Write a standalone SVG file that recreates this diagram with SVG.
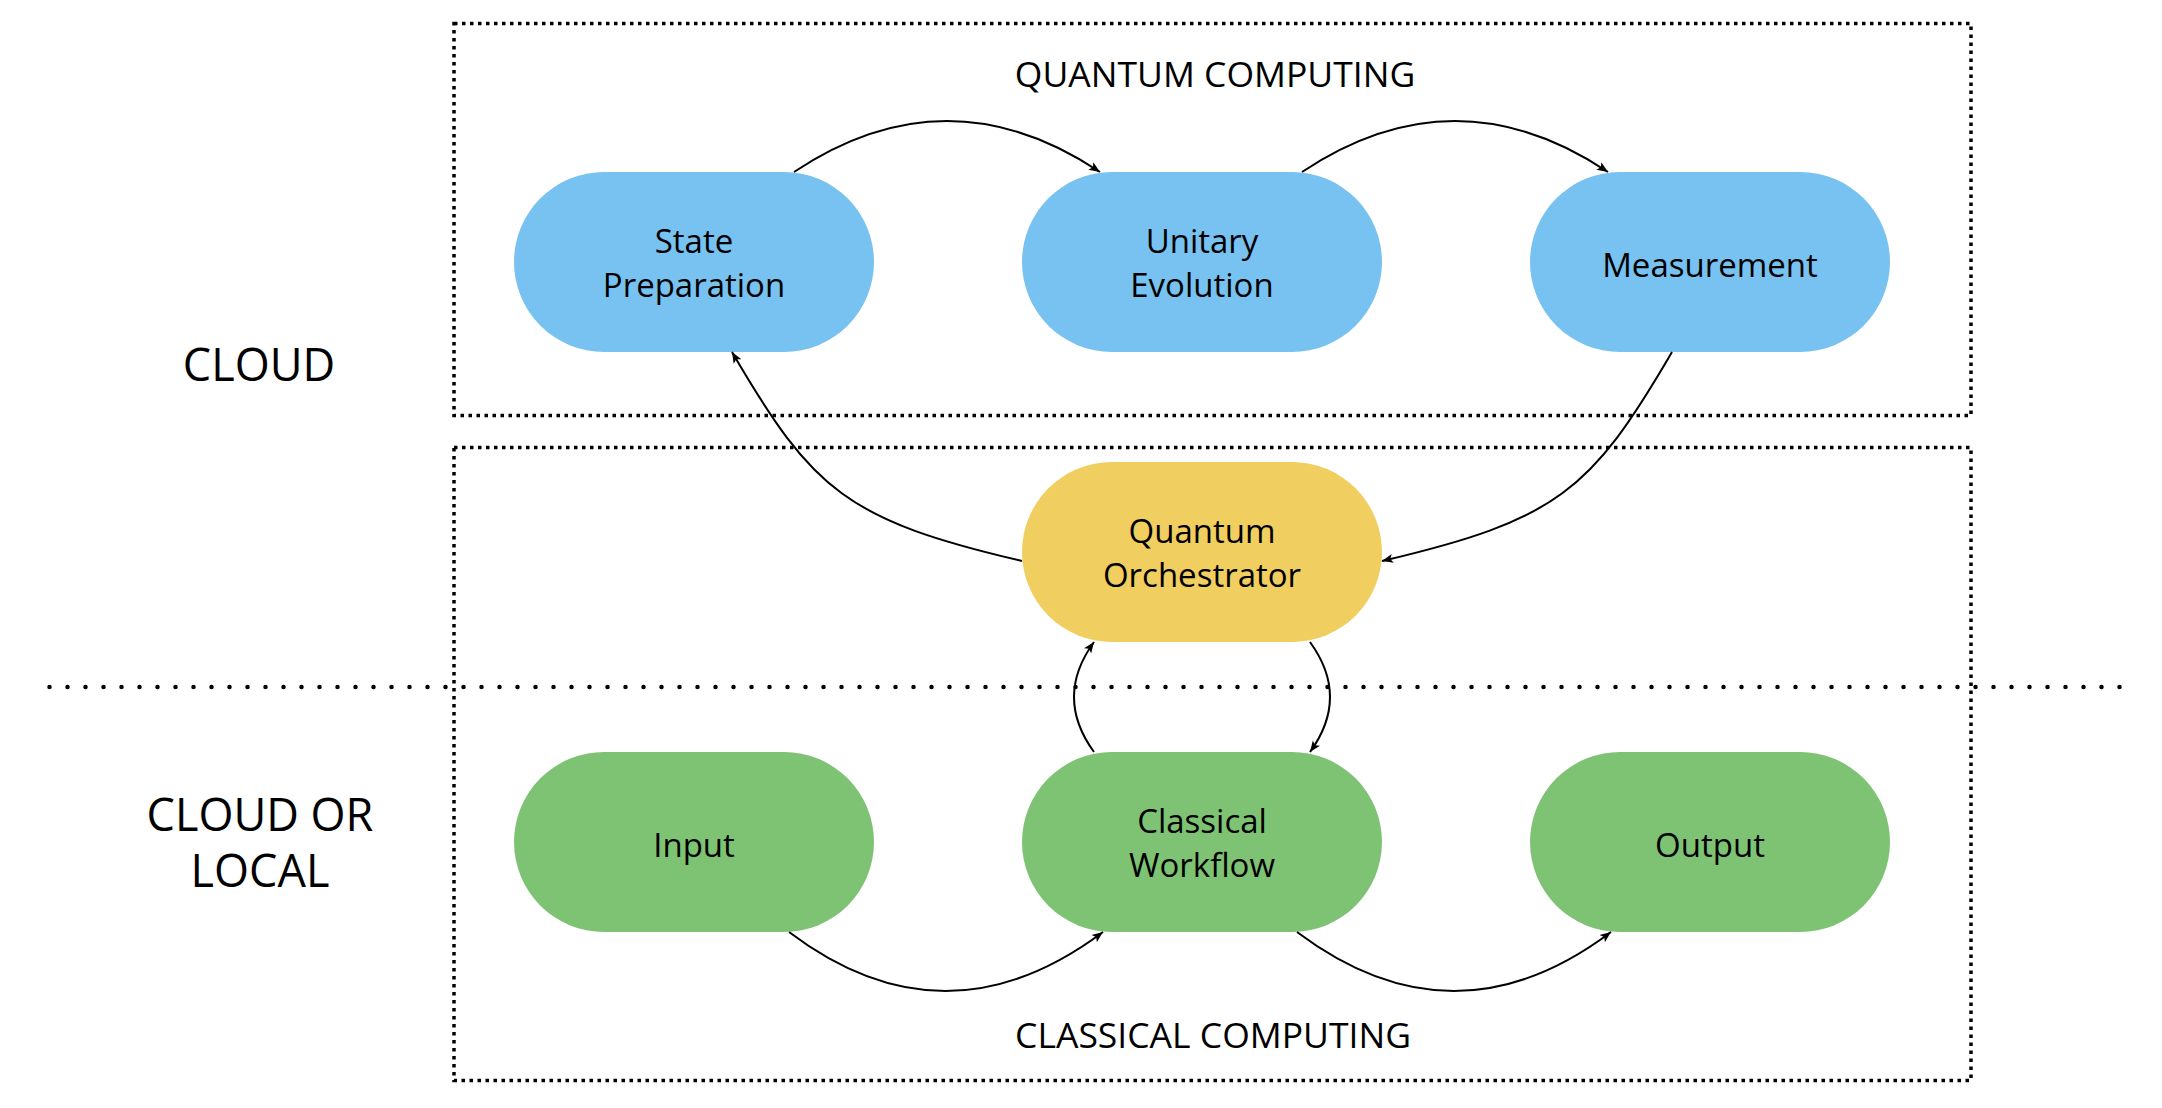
<svg xmlns="http://www.w3.org/2000/svg" width="2162" height="1108" viewBox="0 0 2162 1108">
  <style>
    .zone { fill: none; stroke: #000; stroke-width: 3.5; stroke-dasharray: 3.5 4.5; }
    .divider { fill: none; stroke: #000; stroke-width: 4.5; stroke-dasharray: 0 18; stroke-linecap: round; }
    .label { font-family: "Open Sans", "Liberation Sans", sans-serif; fill: #000; text-anchor: middle; }
    .title { font-size: 35.5px; }
    .side { font-size: 45px; }
    .node-text { font-size: 33px; }
    .quantum { fill: #77C2F0; }
    .orch { fill: #F0CE60; }
    .classical { fill: #7EC373; }
    .edge { fill: none; stroke: #000; stroke-width: 2; marker-end: url(#arrow); }
  </style>
  <defs>
    <marker id="arrow" markerUnits="userSpaceOnUse" viewBox="0 0 12 10" markerWidth="12" markerHeight="10" refX="11" refY="5" orient="auto">
      <path d="M0,0.5 L11,5 L0,9.5 L2.5,5 Z" fill="#000"/>
    </marker>
  </defs>

  <rect width="2162" height="1108" fill="#fff"/>

  <!-- zones -->
  <g id="zones">
    <rect class="zone" x="454" y="23.5" width="1517" height="392"/>
    <rect class="zone" x="454" y="447.5" width="1517" height="633"/>
    <line class="divider" x1="49.5" y1="687" x2="2137.5" y2="687"/>
    <text class="label title" x="1215" y="87">QUANTUM COMPUTING</text>
    <text class="label title" x="1213" y="1048">CLASSICAL COMPUTING</text>
    <text class="label side" x="259" y="381">CLOUD</text>
    <text class="label side" x="260" y="831">CLOUD OR</text>
    <text class="label side" x="260" y="887">LOCAL</text>
  </g>

  <!-- nodes -->
  <g id="state-preparation">
    <rect class="quantum" x="514" y="172" width="360" height="180" rx="90"/>
    <text class="label node-text" x="694" y="253">State</text>
    <text class="label node-text" x="694" y="297">Preparation</text>
  </g>
  <g id="unitary-evolution">
    <rect class="quantum" x="1022" y="172" width="360" height="180" rx="90"/>
    <text class="label node-text" x="1202" y="253">Unitary</text>
    <text class="label node-text" x="1202" y="297">Evolution</text>
  </g>
  <g id="measurement">
    <rect class="quantum" x="1530" y="172" width="360" height="180" rx="90"/>
    <text class="label node-text" x="1710" y="277">Measurement</text>
  </g>
  <g id="quantum-orchestrator">
    <rect class="orch" x="1022" y="462" width="360" height="180" rx="90"/>
    <text class="label node-text" x="1202" y="543">Quantum</text>
    <text class="label node-text" x="1202" y="587">Orchestrator</text>
  </g>
  <g id="input">
    <rect class="classical" x="514" y="752" width="360" height="180" rx="90"/>
    <text class="label node-text" x="694" y="857">Input</text>
  </g>
  <g id="classical-workflow">
    <rect class="classical" x="1022" y="752" width="360" height="180" rx="90"/>
    <text class="label node-text" x="1202" y="833">Classical</text>
    <text class="label node-text" x="1202" y="877">Workflow</text>
  </g>
  <g id="output">
    <rect class="classical" x="1530" y="752" width="360" height="180" rx="90"/>
    <text class="label node-text" x="1710" y="857">Output</text>
  </g>

  <!-- connectors -->
  <g id="connectors">
    <path class="edge" d="M794,172 Q947,70 1100,172"/>
    <path class="edge" d="M1302,172 Q1455,70 1608,172"/>
    <path class="edge" d="M1672,352 C1591,491 1557,520 1382,561"/>
    <path class="edge" d="M1022,561 C847,520 813,491 732,352"/>
    <path class="edge" d="M1094,752 Q1054,697 1094,642"/>
    <path class="edge" d="M1310,642 Q1350,697 1310,752"/>
    <path class="edge" d="M789,932 Q945,1050 1103,932"/>
    <path class="edge" d="M1297,932 Q1454,1050 1611,932"/>
  </g>
</svg>
